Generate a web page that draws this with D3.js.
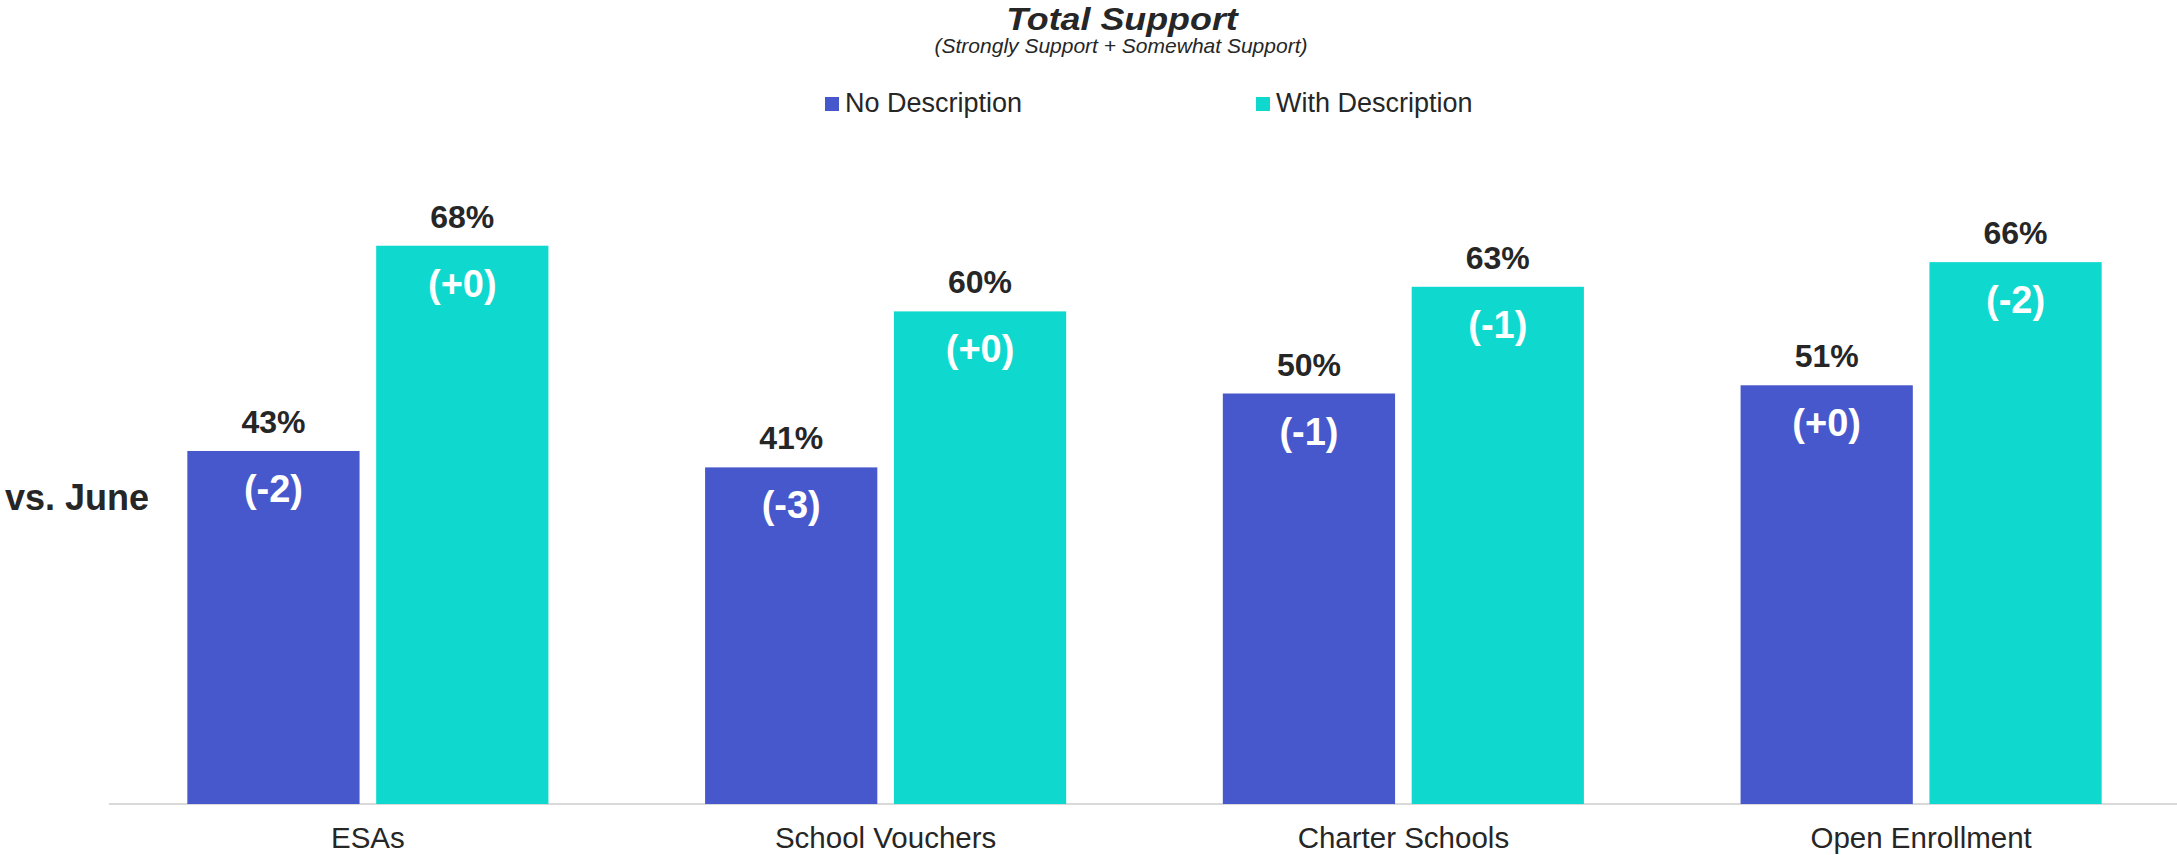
<!DOCTYPE html>
<html>
<head>
<meta charset="utf-8">
<script src="https://cdn.jsdelivr.net/npm/d3@7"></script>
<style>
  html, body { margin: 0; padding: 0; background: #fff; }
  svg { display: block; font-family: "Liberation Sans", Arial, sans-serif; }
</style>
</head>
<body>
<svg id="chart" width="2177" height="855"></svg>
<script>
const categories = ["ESAs", "School Vouchers", "Charter Schools", "Open Enrollment"];
const seriesNames = ["No Description", "With Description"];
const noDescription = [43, 41, 50, 51];
const withDescription = [68, 60, 63, 66];
const noDescChange = ["(-2)", "(-3)", "(-1)", "(+0)"];
const withDescChange = ["(+0)", "(+0)", "(-1)", "(-2)"];
const colors = ["#4758CD", "#0FD8CE"];
const titleText = "Total Support";
const subtitleText = "(Strongly Support + Somewhat Support)";
const sideLabel = "vs. June";

const svg = d3.select("#chart");
const textColor = "#262626";

const x0 = d3.scaleBand().domain(categories).range([109, 2180]).paddingInner(0.3026).paddingOuter(0.1513);
const x1 = d3.scaleBand().domain(seriesNames).range([0, x0.bandwidth()]).paddingInner(0.088).paddingOuter(0);
const y = d3.scaleLinear().domain([0, 100]).range([804, -17]);

const data = categories.map((c, i) => ({
  cat: c,
  vals: [
    { s: seriesNames[0], v: noDescription[i], ch: noDescChange[i] },
    { s: seriesNames[1], v: withDescription[i], ch: withDescChange[i] }
  ]
}));

// axis baseline
const xAxis = d3.axisBottom(x0).tickSize(0).tickPadding(0);
const axisG = svg.append("g").attr("transform", `translate(0,${y(0)})`).call(xAxis);
axisG.select(".domain").attr("stroke", "#d9d9d9").attr("stroke-width", 2).attr("d", `M109,0H2177`);
axisG.selectAll(".tick text").attr("font-size", 29.5).attr("fill", textColor)
  .attr("font-family", "Liberation Sans, Arial, sans-serif").attr("dy", null).attr("y", 44);

const groups = svg.append("g").selectAll("g").data(data).join("g")
  .attr("transform", d => `translate(${x0(d.cat)},0)`);

groups.selectAll("rect").data(d => d.vals).join("rect")
  .attr("x", d => x1(d.s))
  .attr("y", d => y(d.v))
  .attr("width", x1.bandwidth())
  .attr("height", d => y(0) - y(d.v))
  .attr("fill", (d, i) => colors[i]);

groups.selectAll("text.val").data(d => d.vals).join("text").attr("class", "val")
  .attr("x", d => x1(d.s) + x1.bandwidth() / 2)
  .attr("y", d => y(d.v) - 18)
  .attr("text-anchor", "middle")
  .attr("font-size", 32).attr("font-weight", "bold").attr("fill", textColor)
  .text(d => d.v + "%");

groups.selectAll("text.chg").data(d => d.vals).join("text").attr("class", "chg")
  .attr("x", d => x1(d.s) + x1.bandwidth() / 2)
  .attr("y", d => y(d.v) + 51)
  .attr("text-anchor", "middle")
  .attr("font-size", 38).attr("font-weight", "bold").attr("fill", "#ffffff")
  .text(d => d.ch);

// side label
svg.append("text").attr("x", 5).attr("y", 510)
  .attr("font-size", 36).attr("font-weight", "bold").attr("fill", textColor)
  .text(sideLabel);

// title
svg.append("text").attr("transform", "translate(1122,30) scale(1.12,1)").attr("text-anchor", "middle")
  .attr("font-size", 32).attr("font-weight", "bold").attr("font-style", "italic").attr("fill", textColor)
  .text(titleText);
svg.append("text").attr("x", 1121).attr("y", 53).attr("text-anchor", "middle")
  .attr("font-size", 21).attr("font-style", "italic").attr("fill", textColor)
  .text(subtitleText);

// legend
const legendX = [825, 1256];
const leg = svg.append("g").selectAll("g").data(seriesNames).join("g")
  .attr("transform", (d, i) => `translate(${legendX[i]},97)`);
leg.append("rect").attr("width", 14).attr("height", 14).attr("fill", (d, i) => colors[i]);
leg.append("text").attr("x", 20).attr("y", 15).attr("font-size", 27).attr("fill", textColor).text(d => d);
</script>
</body>
</html>
